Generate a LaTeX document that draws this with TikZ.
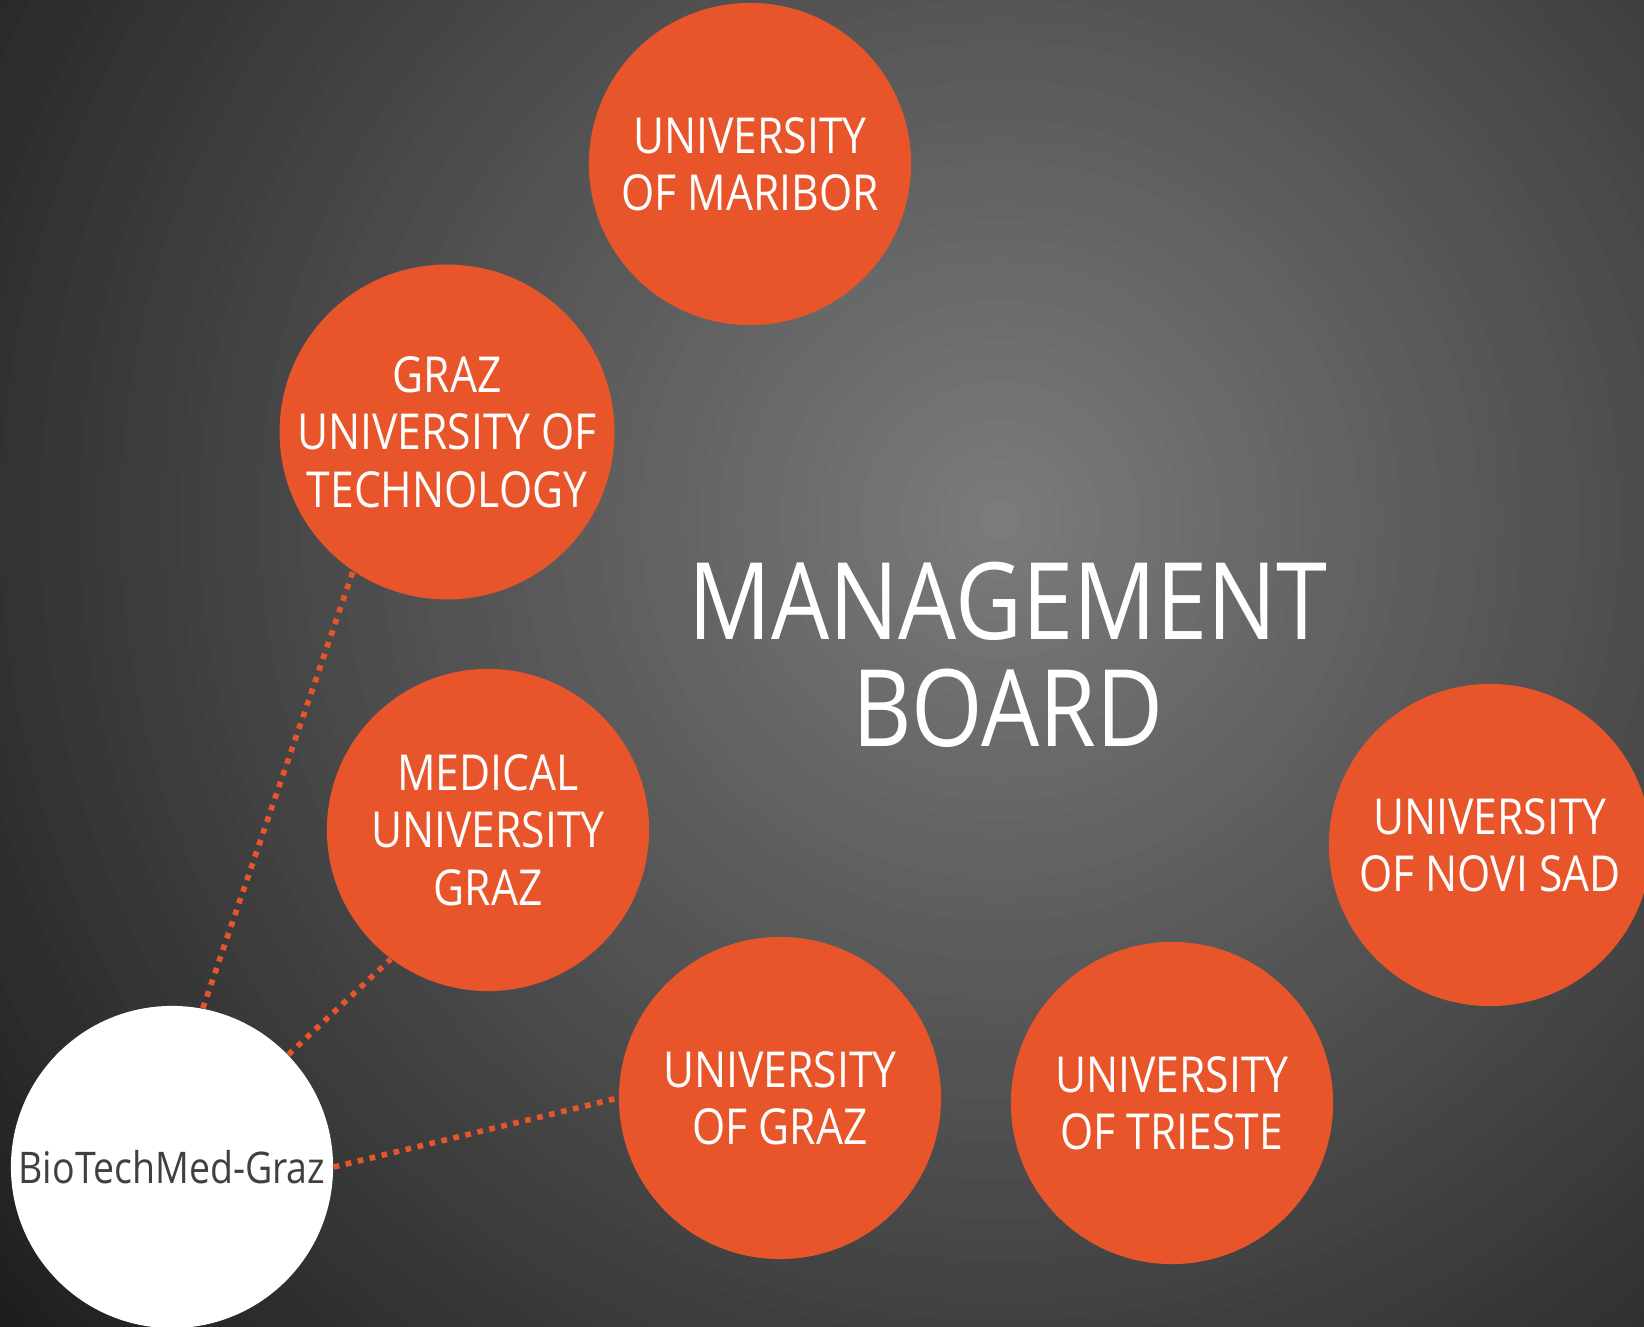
\documentclass[tikz,border=0pt]{standalone}
\usepackage{fontspec}
\setmainfont{Open Sans}[FakeStretch=0.86]
\usetikzlibrary{positioning}
\definecolor{uniorange}{HTML}{E8552B}
\definecolor{glowin}{HTML}{7C7C7C}
\definecolor{glowout}{HTML}{1A1A1A}
\definecolor{biotext}{HTML}{404040}

\begin{document}
\begin{tikzpicture}[x=0.01cm, y=-0.01cm,
    uni/.style={circle, draw=none, fill=uniorange, text=white,
                minimum size=3.22cm, inner sep=0pt, align=center,
                font=\fontsize{14.1}{16.3}\selectfont},
    link/.style={draw=uniorange, line width=1.6pt,
                 dash pattern=on 1.6pt off 1.9pt}]
    \useasboundingbox (0,0) rectangle (1644,1327);
    % background glow
    \begin{scope}
        \clip (0,0) rectangle (1644,1327);
        \fill[glowout] (0,0) rectangle (1644,1327);
        \foreach \r [evaluate=\r as \p using {100-\r/13.4}] in {1340,1320,...,0}
            \fill[glowin!\p!glowout] (1000,520) circle (\r);
    \end{scope}

    \node[uni] (um)  at (750,164)   {UNIVERSITY\\OF MARIBOR};
    \node[uni] (gtu) at (447,432)   {GRAZ\\UNIVERSITY OF\\TECHNOLOGY};
    \node[uni] (mug) at (488,830)   {MEDICAL\\UNIVERSITY\\GRAZ};
    \node[uni] (ug)  at (780,1098)  {UNIVERSITY\\OF GRAZ};
    \node[uni] (uts) at (1172,1103) {UNIVERSITY\\OF TRIESTE};
    \node[uni] (uns) at (1490,845)  {UNIVERSITY\\OF NOVI SAD};

    \node[circle,
          fill=white,
          minimum size=3.22cm,
          inner sep=0pt,
          text=biotext,
          font=\fontsize{12.4}{14}\selectfont] (bio) at (172,1167) {BioTechMed-Graz};

    \node[text=white,
          align=center,
          font=\fontsize{30.4}{30.4}\selectfont] (board) at (1008,655) {MANAGEMENT\\BOARD};

    \draw[link] (bio.79) -- (gtu.236);
    \draw[link] (bio.44) -- (mug.233);
    \draw[link] (bio.east) -- (ug.west);
\end{tikzpicture}
\end{document}
